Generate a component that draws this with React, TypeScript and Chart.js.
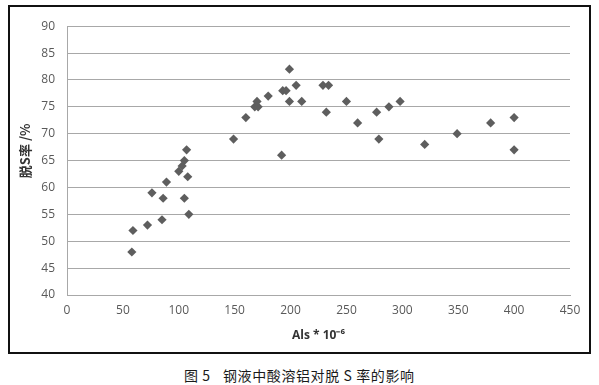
import React, { useEffect, useRef } from "react";
import Chart from "chart.js/auto";

const alsValues: number[] = [58, 59, 72, 85, 76, 86, 89, 100, 103, 105, 107, 108, 105, 109, 149, 160, 168, 171, 170, 180, 193, 196, 192, 199, 199, 205, 210, 229, 234, 232, 250, 260, 277, 279, 288, 298, 320, 349, 379, 400, 400];
const desulfRate: number[] = [48, 52, 53, 54, 59, 58, 61, 63, 64, 65, 67, 62, 58, 55, 69, 73, 75, 75, 76, 77, 78, 78, 66, 82, 76, 79, 76, 79, 79, 74, 76, 72, 74, 69, 75, 76, 68, 70, 72, 73, 67];
const yTitle = "脱S率 /%";
const xTitle = "Als * 10⁻⁶";
const caption1 = "图 5";
const caption2 = "钢液中酸溶铝对脱 S 率的影响";

export default function App() {
  const ref = useRef<HTMLCanvasElement | null>(null);
  useEffect(() => {
    if (!ref.current) return;
    const pts = alsValues.map((x, i) => ({ x, y: desulfRate[i] }));
    const tickFont = { family: "'Open Sans', sans-serif", size: 12 };
    const chart = new Chart(ref.current, {
      type: "scatter",
      data: {
        datasets: [
          {
            data: pts,
            pointStyle: "rectRot",
            pointRadius: 4.6,
            pointBackgroundColor: "#5e5e5e",
            pointBorderColor: "#5e5e5e",
            pointBorderWidth: 0,
          },
        ],
      },
      options: {
        animation: false,
        responsive: false,
        maintainAspectRatio: false,
        layout: { padding: { top: 9, right: 19, left: 0, bottom: 0 } },
        plugins: { legend: { display: false }, tooltip: { enabled: false } },
        scales: {
          x: {
            type: "linear",
            min: 0,
            max: 450,
            ticks: { stepSize: 50, color: "#595959", font: tickFont, padding: 8 },
            grid: { display: false, drawTicks: false },
            border: { display: true, color: "#a8a8a8", width: 1 },
            title: {
              display: true,
              text: xTitle,
              color: "#333333",
              font: { family: "'Open Sans', sans-serif", size: 12, weight: "bold" },
              padding: { top: 0, bottom: 9 },
            },
            afterFit: (s: any) => {
              s.height = 57;
            },
          },
          y: {
            type: "linear",
            min: 40,
            max: 90,
            ticks: { stepSize: 5, color: "#595959", font: tickFont, padding: 12 },
            grid: { color: "#a8a8a8", lineWidth: 1, drawTicks: false },
            border: { display: true, color: "#a8a8a8", width: 1 },
            title: {
              display: true,
              text: "\u2003\u2002" + yTitle,
              color: "#333333",
              font: { family: "'Noto Sans CJK SC', sans-serif", size: 13, weight: "bold" },
              padding: { top: 7, bottom: 0 },
            },
            afterFit: (s: any) => {
              s.width = 57;
            },
          },
        },
      },
    });
    return () => chart.destroy();
  }, []);

  const capStyle: React.CSSProperties = {
    position: "absolute",
    top: 366,
    whiteSpace: "pre",
    fontFamily: "'Noto Sans CJK SC', sans-serif",
    fontSize: 14,
    lineHeight: "18px",
    letterSpacing: "0.6px",
    color: "#1a1a1a",
  };

  return (
    <div style={{ position: "absolute", left: 0, top: 0, width: 599, height: 385, background: "#fff" }}>
      <div
        style={{
          position: "absolute",
          left: 8,
          top: 5,
          width: 579,
          height: 345,
          border: "2px solid #111",
        }}
      >
        <canvas ref={ref} width={579} height={345} style={{ display: "block", width: 579, height: 345 }} />
      </div>
      <div style={{ ...capStyle, left: 184 }}>{caption1}</div>
      <div style={{ ...capStyle, left: 223 }}>{caption2}</div>
    </div>
  );
}
